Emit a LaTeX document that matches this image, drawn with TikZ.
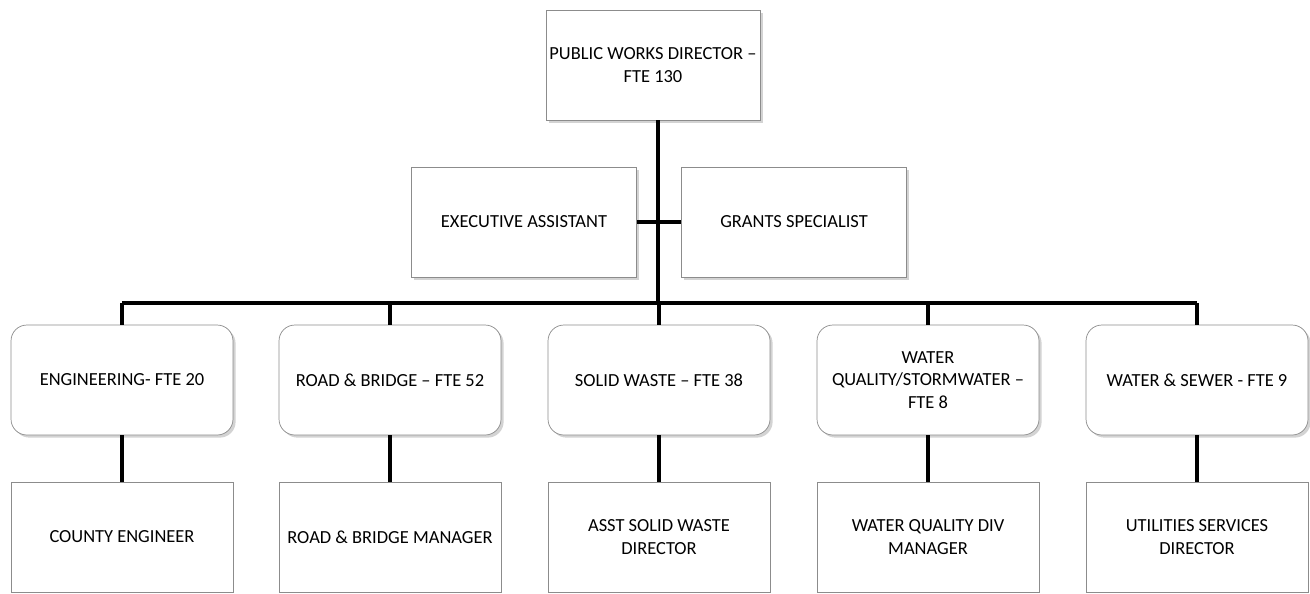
\documentclass[tikz,border=0pt]{standalone}
\usepackage{fontspec}
\setmainfont{Carlito}
\usepackage{tikz}
\usetikzlibrary{shadows}
\tikzstyle{post} = [draw=black!45, fill=white, thin, rectangle, align=center,
    minimum width=4.44cm, minimum height=2.2cm, inner sep=2pt,
    drop shadow={opacity=0.35, shadow xshift=1.5pt, shadow yshift=-1.5pt}]
\tikzstyle{dept} = [post, rounded corners=9pt]
\tikzstyle{lead} = [draw=black!45, fill=white, thin, rectangle, align=center,
    minimum width=4.44cm, minimum height=2.2cm, inner sep=2pt]
\tikzstyle{wire} = [line width=2.8pt, black]

\begin{document}
\begin{tikzpicture}[x=0.02cm, y=-0.02cm, font=\fontsize{10.5}{12.8}\selectfont]
                \useasboundingbox (0,0) rectangle (1310,593);
                % head of the department
                \node [post, minimum width=4.2cm] (director) at (653,65) {PUBLIC WORKS DIRECTOR --\\FTE 130};
                \node [post, minimum width=4.5cm] (exec) at (524,222) {EXECUTIVE ASSISTANT};
                \node [post, minimum width=4.5cm] (grants) at (794,222) {GRANTS SPECIALIST};
                % divisions
                \node [dept] (eng) at (122,380) {ENGINEERING- FTE 20};
                \node [dept] (road) at (390,380) {ROAD \& BRIDGE -- FTE 52};
                \node [dept] (waste) at (659,380) {SOLID WASTE -- FTE 38};
                \node [dept] (storm) at (928,380) {WATER\\QUALITY/STORMWATER --\\FTE 8};
                \node [dept] (sewer) at (1197,380) {WATER \& SEWER - FTE 9};
                % division leads
                \node [lead] (engmgr) at (122,537) {COUNTY ENGINEER};
                \node [lead] (roadmgr) at (390,537) {ROAD \& BRIDGE MANAGER};
                \node [lead] (wastemgr) at (659,537) {ASST SOLID WASTE\\DIRECTOR};
                \node [lead] (stormmgr) at (928,537) {WATER QUALITY DIV\\MANAGER};
                \node [lead] (sewermgr) at (1197,537) {UTILITIES SERVICES\\DIRECTOR};
                \coordinate (hub) at (658,303);
                % reporting lines
                \draw [wire] (director.south -| hub) -- (hub);
                \draw [wire] (exec.east) -- (grants.west);
                \draw [wire] (hub -| eng.north) -- (hub -| sewer.north);
                \foreach \d in {eng, road, waste, storm, sewer} {
                    \draw [wire] (hub -| \d.north) -- (\d.north);
                    \draw [wire] (\d.south) -- (\d mgr.north);
                }
\end{tikzpicture}
\end{document}
